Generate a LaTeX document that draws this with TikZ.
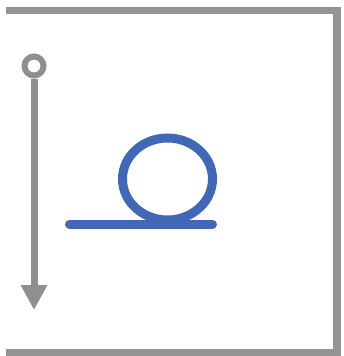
\documentclass[tikz,border=0pt]{standalone}
\usetikzlibrary{arrows.meta}
\definecolor{framegray}{RGB}{148,148,150}
\definecolor{arrowgray}{RGB}{143,143,145}
\definecolor{loopblue}{RGB}{64,104,180}
\tikzset{
  framestroke/.style={draw=framegray, line width=7.5pt, line join=miter},
  ringnode/.style={circle, draw=arrowgray, line width=6pt, minimum size=19pt, inner sep=0pt},
  downarrow/.style={draw=arrowgray, line width=7pt, -{Triangle[width=25pt,length=25pt]}},
  bluestroke/.style={draw=loopblue, line width=9pt, line cap=round}
}
\begin{document}
\begin{tikzpicture}[x=1pt,y=-1pt]
\useasboundingbox (0,0) rectangle (343,356);
% frame
\coordinate (f1) at (6,10.5);
\coordinate (f2) at (337,10.5);
\coordinate (f3) at (337,352.8);
\coordinate (f4) at (6,352.8);
\draw[framestroke] (f1) -- (f2) -- (f3) -- (f4);
% gray arrow
\node[ringnode] (start) at (34,66) {};
\coordinate (end) at (34,310);
\draw[downarrow] (start.south) -- (end);
% blue loop
\coordinate (l1) at (69.5,224);
\coordinate (l2) at (212.5,224);
\draw[bluestroke] (l1) -- (l2);
\coordinate (lc) at (167.5,179);
\draw[bluestroke] (lc) ellipse [x radius=45, y radius=41];
\end{tikzpicture}
\end{document}
